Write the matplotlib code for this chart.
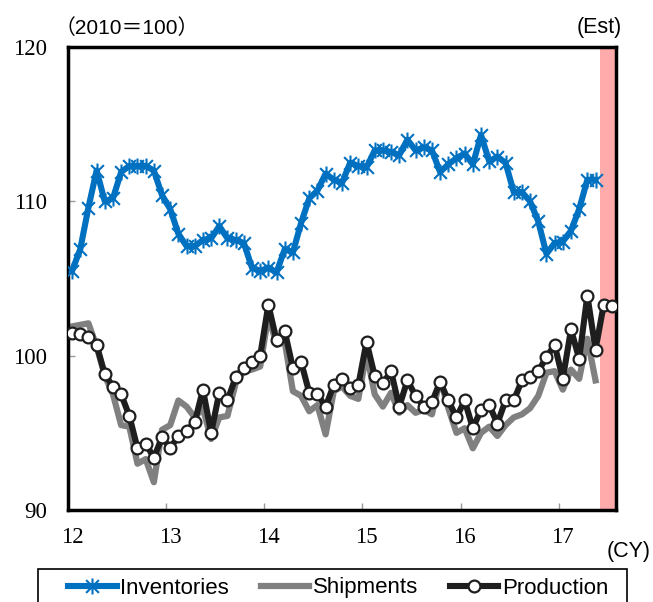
import matplotlib
matplotlib.use('Agg')
import matplotlib.pyplot as plt
from matplotlib.path import Path
from matplotlib.patches import Rectangle
import numpy as np

year_labels = ['12', '13', '14', '15', '16', '17']

inventories = [105.5, 106.9, 109.6, 112.0, 110.0, 110.2, 111.9, 112.3, 112.3, 112.3,
               112.0, 110.4, 109.5, 107.9, 107.1, 107.1, 107.5, 107.6, 108.4, 107.6,
               107.5, 107.3, 105.7, 105.5, 105.7, 105.4, 106.9, 106.7, 108.6, 110.2,
               110.7, 111.8, 111.4, 111.2, 112.5, 112.3, 112.2, 113.3, 113.3, 113.2,
               113.0, 114.0, 113.3, 113.5, 113.3, 111.9, 112.4, 112.8, 113.1, 112.4,
               114.3, 112.6, 112.9, 112.5, 110.6, 110.6, 110.0, 108.7, 106.6, 107.3,
               107.4, 108.1, 109.5, 111.4, 111.4]

shipments = [101.9, 102.0, 102.1, 100.6, 98.7, 97.5, 95.5, 95.4, 93.0, 93.3,
             91.8, 95.2, 95.5, 97.1, 96.7, 96.0, 96.6, 94.6, 96.0, 96.1,
             98.2, 99.0, 99.1, 99.3, 102.6, 100.7, 100.9, 97.7, 97.4, 96.4,
             96.8, 94.9, 97.7, 98.0, 97.4, 97.2, 100.2, 97.5, 96.7, 97.6,
             96.3, 96.8, 96.3, 96.5, 96.2, 98.5, 96.6, 95.0, 95.3, 94.0,
             95.0, 95.4, 94.8, 95.5, 96.0, 96.2, 96.6, 97.4, 98.9, 99.0,
             97.8, 99.1, 98.5, 101.1, 98.4]

production = [101.5, 101.4, 101.2, 100.7, 98.8, 98.0, 97.5, 96.1, 94.0, 94.3,
              93.4, 94.7, 94.0, 94.8, 95.1, 95.7, 97.8, 95.0, 97.6, 97.1,
              98.6, 99.2, 99.6, 100.0, 103.3, 101.0, 101.6, 99.2, 99.6, 97.6,
              97.5, 96.7, 98.1, 98.5, 97.9, 98.1, 100.9, 98.7, 98.2, 99.0,
              96.7, 98.4, 97.4, 96.7, 97.0, 98.3, 97.1, 96.0, 97.1, 95.3,
              96.5, 96.8, 95.6, 97.1, 97.1, 98.4, 98.6, 99.0, 99.9, 100.7,
              98.5, 101.7, 99.8, 103.9, 100.4, 103.3, 103.2]

est_start = 65  # first estimated month index

# Excel-like star marker: an X plus a vertical bar
star = Path([(-1, -1), (1, 1), (-1, 1), (1, -1), (0, -1.25), (0, 1.25)],
            [Path.MOVETO, Path.LINETO] * 3)

fig = plt.figure(figsize=(6.53, 6.02), dpi=100)
ax = fig.add_axes([0.1041, 0.1528, 0.8392, 0.769])

n = len(production)
ax.axvspan(est_start - 0.5, n - 0.5, color='#FFABAB', lw=0, zorder=0)

xs = np.arange(len(shipments))
xp = np.arange(len(production))
xi = np.arange(len(inventories))

l_s, = ax.plot(xs, shipments, color='#808080', lw=4.5, label='Shipments', zorder=2)
l_p, = ax.plot(xp, production, color='#1E1E1E', lw=4.4, marker='o', ms=8.5,
               mfc='white', mec='#1E1E1E', mew=1.6, label='Production', zorder=3)
l_i, = ax.plot(xi, inventories, color='#0070C0', lw=4.4, marker=star, ms=11.5,
               mew=1.5, mec='#0070C0', mfc='none', label='Inventories', zorder=3)

ax.set_xlim(-0.5, n - 0.5)
ax.set_ylim(90, 120)
ax.set_yticks([90, 100, 110, 120])
ax.set_yticklabels(['90', '100', '110', '120'], family='Liberation Serif', fontsize=16.5)

ax.set_xticks([11.5, 23.5, 35.5, 47.5, 59.5])
ax.set_xticklabels([])
ax.set_xticks([0, 12, 24, 36, 48, 60], minor=True)
ax.set_xticklabels(year_labels, minor=True, family='Liberation Serif', fontsize=16.5)
ax.tick_params(axis='x', which='major', direction='in', length=5, color='#999999', width=1)
ax.tick_params(axis='x', which='minor', length=0, pad=12)
ax.tick_params(axis='y', direction='in', length=5, color='#999999', width=1, pad=15)

for sp in ax.spines.values():
    sp.set_linewidth(2.5)
    sp.set_color('black')

fig.text(0.083, 1 - 28 / 602, '（2010＝100）', family=['Liberation Sans', 'Noto Sans CJK JP'],
         fontsize=15, va='center', ha='left')
fig.text(622 / 653, 1 - 28 / 602, '(Est)', family='Liberation Sans', fontsize=15.5,
         va='center', ha='right')
fig.text(651 / 653, 1 - 552 / 602, '(CY)', family='Liberation Sans', fontsize=15.5,
         va='center', ha='right')

# legend box (extends below the figure edge, as in the reference)
fig.add_artist(Rectangle((38 / 653, -0.05), 589 / 653, (1 - 569 / 602) + 0.05,
                         transform=fig.transFigure, fill=False, ec='black', lw=1.2))
leg = fig.legend([l_i, l_s, l_p], ['Inventories', 'Shipments', 'Production'],
                 loc='center left', bbox_to_anchor=(68 / 653, 1 - 588 / 602),
                 ncol=3, frameon=False,
                 prop={'family': 'Liberation Sans', 'size': 16}, handlelength=2.2,
                 handletextpad=0.15, borderpad=0, borderaxespad=0, columnspacing=1.42)

fig.savefig('out.png', dpi=100)
